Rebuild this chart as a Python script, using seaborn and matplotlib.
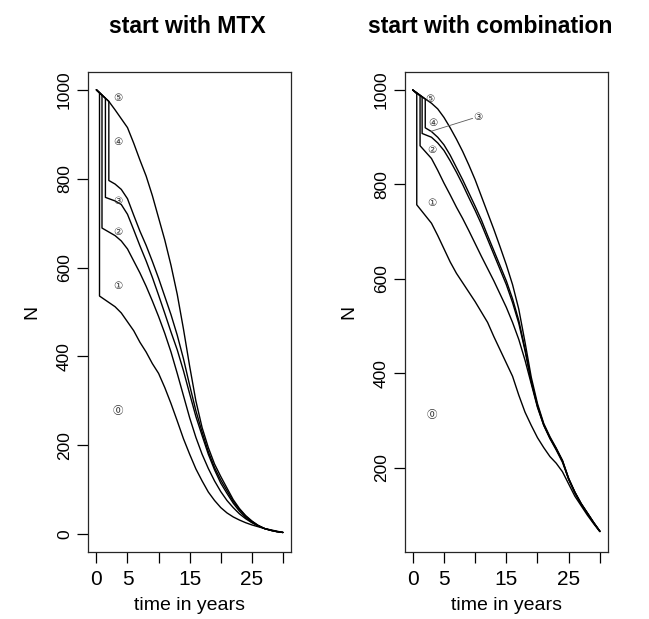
import pandas as pd
import seaborn as sns
import matplotlib.pyplot as plt

# tail of every curve is read once a year, from year 3 to year 30
tail_years = list(range(3, 31))

# ---- start with MTX (left panel) ----
# each curve: starts at 1000, drops at drop_t from pre to post, then the tail
mtx_drop_t = [0.5, 0.9, 1.45, 2.0, 2.0]
mtx_pre = [993, 988, 981, 974, 974]
mtx_post = [536, 689, 758, 796, 974]
mtx0 = [512, 498, 478, 458, 432, 410, 384, 362, 330, 294, 255, 215, 180, 147,
        120, 95, 76, 60, 48, 39, 32, 26, 21, 17, 13, 10, 7, 4]
mtx1 = [672, 660, 642, 615, 588, 558, 525, 490, 452, 410, 362, 312, 262, 218,
        180, 148, 120, 96, 76, 60, 46, 35, 26, 19, 13, 9, 6, 4]
mtx2 = [750, 742, 720, 685, 649, 615, 578, 538, 497, 455, 415, 368, 316, 265,
        222, 180, 145, 115, 92, 70, 52, 38, 27, 19, 13, 9, 6, 4]
mtx3 = [788, 776, 755, 718, 682, 650, 614, 576, 535, 494, 448, 395, 335, 278,
        230, 186, 150, 122, 98, 74, 56, 41, 29, 20, 13, 9, 6, 4]
mtx4 = [955, 935, 915, 880, 842, 806, 762, 712, 662, 605, 540, 462, 378, 300,
        240, 195, 158, 130, 104, 78, 58, 42, 30, 20, 13, 9, 6, 4]
mtx_label_t = [3.5, 3.5, 3.5, 3.5, 3.5, 3.5]
mtx_label_n = [278, 558, 681, 750, 882, 981]

# ---- start with combination (right panel) ----
comb_drop_t = [0.64, 1.17, 1.5, 2.0, 2.0]
comb_pre = [992, 988, 985, 981, 981]
comb_post = [757, 882, 908, 920, 981]
comb0 = [718, 692, 664, 636, 612, 592, 572, 552, 530, 508, 478, 450, 422, 394,
         354, 318, 290, 264, 243, 224, 210, 192, 166, 140, 120, 100, 82, 65]
comb1 = [855, 830, 803, 778, 752, 728, 702, 675, 648, 622, 596, 568, 540, 508,
         472, 428, 378, 328, 290, 262, 238, 212, 176, 148, 124, 104, 84, 66]
comb2 = [900, 888, 872, 850, 826, 800, 772, 745, 716, 684, 652, 620, 588, 550,
         506, 448, 382, 330, 291, 263, 240, 215, 176, 147, 123, 104, 84, 66]
comb3 = [912, 900, 884, 862, 836, 810, 782, 754, 725, 692, 660, 628, 596, 558,
         512, 452, 384, 332, 292, 264, 241, 215, 177, 148, 124, 104, 84, 66]
comb4 = [972, 960, 942, 920, 896, 870, 841, 810, 775, 740, 705, 668, 630, 588,
         536, 466, 392, 336, 294, 266, 242, 216, 178, 149, 125, 105, 85, 66]
comb_label_t = [3.0, 3.0, 3.0, 10.5, 3.3, 2.8]
comb_label_n = [312, 760, 873, 943, 931, 981]
comb_leader_t = [2.8, 9.6]
comb_leader_n = [912, 940]

state_marks = ['\u24ea', '\u2460', '\u2461', '\u2462', '\u2463', '\u2464']


def curves_frame(drop_t, pre, post, tails):
    rows = []
    for k, tail in enumerate(tails):
        ts = [0, drop_t[k], drop_t[k]] + tail_years
        ns = [1000, pre[k], post[k]] + tail
        for t, n in zip(ts, ns):
            rows.append({'t': t, 'N': n, 'curve': k})
    return pd.DataFrame(rows)


df_mtx = curves_frame(mtx_drop_t, mtx_pre, mtx_post, [mtx0, mtx1, mtx2, mtx3, mtx4])
df_comb = curves_frame(comb_drop_t, comb_pre, comb_post, [comb0, comb1, comb2, comb3, comb4])

sns.set_style('ticks')
plt.rcParams['font.family'] = ['Liberation Sans', 'DejaVu Sans']
plt.rcParams['axes.linewidth'] = 0.9
plt.rcParams['text.color'] = 'black'
plt.rcParams['axes.labelcolor'] = 'black'

fig = plt.figure(figsize=(6.49, 6.19), dpi=100)
ax1 = fig.add_axes([0.1356, 0.1082, 0.3128, 0.7754])
ax2 = fig.add_axes([0.6240, 0.1082, 0.3123, 0.7754])

panels = [
    (ax1, df_mtx, mtx_label_t, mtx_label_n, (-1.35, 31.3), (-40, 1040), [0, 200, 400, 600, 800, 1000]),
    (ax2, df_comb, comb_label_t, comb_label_n, (-1.25, 31.25), (22, 1038), [200, 400, 600, 800, 1000]),
]

for ax, df, lt, ln, xl, yl, yt in panels:
    sns.lineplot(data=df, x='t', y='N', units='curve', estimator=None, sort=False,
                 color='black', lw=1.0, legend=False, ax=ax)
    for k in range(6):
        ax.text(lt[k], ln[k], state_marks[k], ha='center', va='center', fontsize=7.5,
                color='0.2', family=['DejaVu Sans', 'Noto Sans CJK JP'])
    ax.set_xlim(*xl)
    ax.set_ylim(*yl)
    ax.set_xticks([0, 5, 10, 15, 20, 25, 30])
    ax.set_xticklabels(['0', '5', '', '15', '', '25', ''], fontsize=15)
    ax.set_yticks(yt)
    ax.set_yticklabels([str(v) for v in yt], fontsize=12.5, rotation=90, va='center')
    ax.tick_params(axis='x', length=8, width=0.9, pad=5, colors='black')
    ax.tick_params(axis='y', length=8, width=0.9, pad=3.5, colors='black')
    ax.set_xlabel('time in years', fontsize=14, labelpad=6)
    ax.set_ylabel('N', fontsize=14, labelpad=12)
    for s in ax.spines.values():
        s.set_color('0.15')

ax2.plot(comb_leader_t, comb_leader_n, color='0.35', lw=0.6)

fig.text(187.5 / 649, 1 - 33 / 619, 'start with MTX', ha='center', va='baseline',
         fontsize=16.6, weight='bold')
fig.text(490 / 649, 1 - 33 / 619, 'start with combination', ha='center', va='baseline',
         fontsize=16.6, weight='bold')

fig.savefig('out.png', dpi=100)
